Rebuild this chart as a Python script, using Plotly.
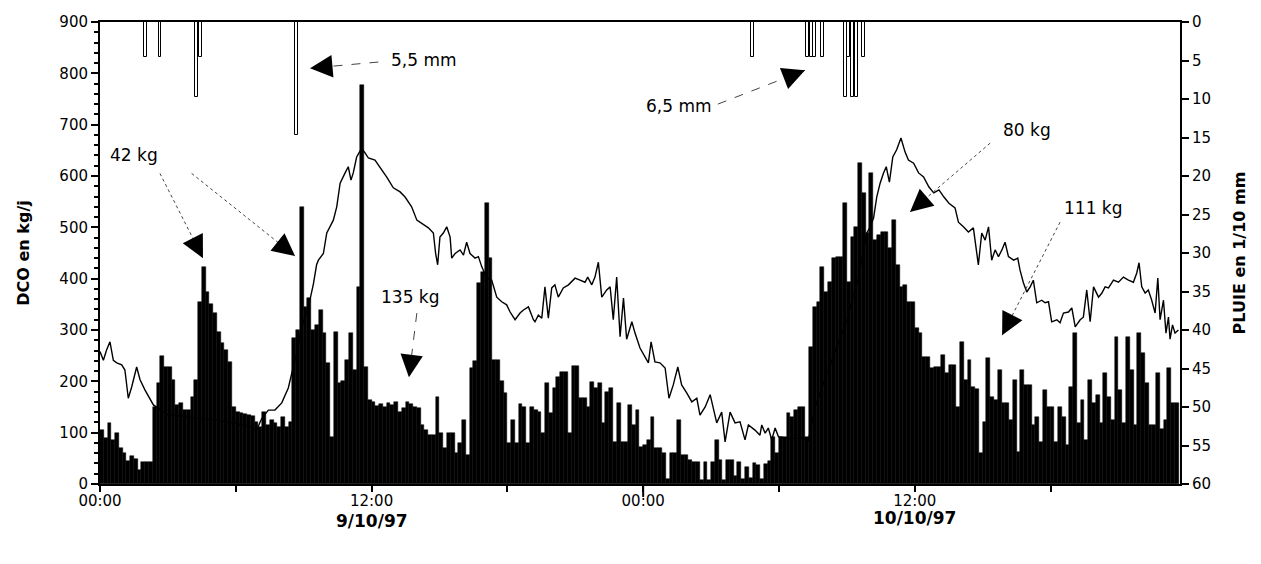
import plotly.graph_objects as go

# DCO load (kg/j), 10-minute steps from 9/10/97 00:00, one row per hour
dco = [
    105, 90, 119, 86, 100, 70,
    60, 45, 55, 48, 27, 43,
    43, 43, 150, 197, 249, 228,
    228, 203, 154, 158, 144, 144,
    170, 203, 355, 423, 374, 350,
    333, 296, 275, 261, 238, 150,
    140, 138, 136, 134, 132, 121,
    111, 140, 115, 125, 118, 111,
    130, 111, 120, 284, 300, 540,
    345, 362, 300, 310, 339, 294,
    236, 92, 296, 197, 200, 241,
    294, 222, 384, 777, 228, 164,
    160, 152, 155, 150, 158, 154,
    160, 140, 148, 160, 156, 150,
    148, 115, 105, 95, 95, 170,
    99, 70, 99, 99, 60, 80,
    125, 57, 226, 240, 391, 413,
    547, 440, 241, 241, 200, 177,
    80, 125, 80, 156, 150, 80,
    150, 144, 140, 99, 197, 138,
    187, 208, 218, 218, 99, 230,
    230, 167, 167, 150, 199, 187,
    197, 119, 179, 187, 82, 158,
    82, 82, 154, 115, 144, 72,
    76, 86, 130, 70, 70, 60,
    10, 60, 60, 125, 57, 57,
    47, 43, 43, 8, 43, 8,
    43, 86, 47, 8, 47, 47,
    15, 43, 10, 33, 12, 41,
    37, 10, 39, 45, 92, 60,
    92, 92, 138, 131, 144, 150,
    150, 92, 267, 345, 355, 423,
    374, 393, 440, 443, 443, 547,
    393, 481, 501, 625, 567, 489,
    606, 475, 485, 491, 491, 460,
    514, 427, 384, 388, 355, 355,
    304, 294, 248, 248, 226, 228,
    228, 251, 216, 232, 232, 150,
    277, 203, 241, 189, 186, 60,
    121, 245, 170, 164, 222, 158,
    158, 125, 203, 62, 222, 193,
    193, 115, 130, 82, 183, 150,
    150, 82, 150, 130, 76, 189,
    294, 119, 164, 86, 203, 158,
    174, 119, 216, 170, 125, 287,
    183, 119, 287, 222, 115, 294,
    255, 197, 115, 115, 216, 107,
    125, 226, 158, 158,
]

# second DCO series (line), read at irregular times (hours from 9/10/97 00:00)
line_hours = [
    0.00, 0.15, 0.29, 0.44, 0.59, 0.74, 0.96, 1.10, 1.25, 1.40, 1.62, 1.77, 1.99, 2.21, 2.36,
    3.0, 4.0, 5.0, 6.0, 6.6, 6.92, 7.15, 7.44, 7.73, 8.03, 8.32, 8.54, 8.69, 8.91, 9.21,
    9.43, 9.57, 9.65, 9.87, 10.02, 10.16, 10.31, 10.46, 10.61, 10.83, 10.97, 11.09, 11.19,
    11.34, 11.56, 11.71, 11.86, 12.15, 12.45, 12.67, 12.96, 13.26, 13.48, 13.77, 14.00,
    14.21, 14.51, 14.73, 14.83, 14.92, 15.02, 15.17, 15.32, 15.47, 15.54, 15.69, 15.91,
    16.06, 16.20, 16.35, 16.57, 16.72, 16.87, 17.09, 17.31, 17.53, 17.75, 17.97, 18.12,
    18.34, 18.56, 18.71, 18.93, 19.15, 19.22, 19.37, 19.52, 19.66, 19.81, 19.96, 20.10,
    20.25, 20.47, 20.70, 20.99, 21.21, 21.43, 21.55, 21.73, 21.87, 22.02, 22.17, 22.39,
    22.54, 22.68, 22.83, 22.98, 23.13, 23.27, 23.50, 23.64, 23.86, 24.08, 24.23, 24.35,
    24.52, 24.74, 24.97, 25.14, 25.33, 25.53, 25.70, 25.93, 26.15, 26.37, 26.51, 26.74,
    26.96, 27.25, 27.47, 27.62, 27.84, 28.06, 28.28, 28.50, 28.65, 28.94, 29.16, 29.24,
    29.39, 29.53, 29.68, 29.83, 29.98, 30.5, 31.0, 31.3, 31.6, 32.0, 32.5, 33.0, 33.5,
    33.88, 34.03, 34.18, 34.32, 34.47, 34.62, 34.74, 34.88, 35.03, 35.20, 35.39, 35.57,
    35.72, 35.95, 36.17, 36.39, 36.62, 36.84, 37.07, 37.29, 37.51, 37.78, 37.93, 38.15,
    38.37, 38.59, 38.74, 38.81, 38.96, 39.11, 39.26, 39.40, 39.55, 39.70, 39.85, 39.99,
    40.14, 40.37, 40.55, 40.65, 40.80, 40.95, 41.10, 41.24, 41.39, 41.61, 41.76, 41.91,
    42.05, 42.28, 42.42, 42.57, 42.79, 42.94, 43.09, 43.31, 43.45, 43.60, 43.75, 43.90,
    44.12, 44.27, 44.41, 44.56, 44.78, 45.00, 45.22, 45.44, 45.66, 45.81, 45.91, 46.03,
    46.18, 46.32, 46.47, 46.62, 46.74, 46.84, 46.99, 47.10, 47.21, 47.28, 47.39, 47.50, 47.65,
]
line_dco = [
    258, 241, 261, 277, 241, 236, 232, 222, 167, 189, 228, 203, 183, 167, 154,
    135, 130, 125, 118, 112, 105, 128, 144, 144, 158, 187, 228, 255, 306, 345,
    390, 427, 436, 449, 489, 501, 514, 540, 586, 606, 618, 592, 606,
    637, 654, 645, 635, 631, 612, 598, 577, 569, 559, 540, 514,
    508, 499, 489, 449, 427, 481, 489, 501, 481, 440, 449, 456,
    446, 471, 449, 440, 443, 423, 401, 397, 364, 355, 349, 335,
    320, 333, 339, 345, 320, 316, 329, 323, 384, 323, 382, 388,
    364, 382, 388, 401, 397, 393, 403, 388, 403, 432, 364, 378,
    384, 320, 403, 287, 362, 282, 316, 294, 265, 248, 236, 277,
    238, 236, 226, 167, 193, 228, 193, 177, 160, 167, 134, 150,
    174, 119, 140, 82, 140, 119, 121, 86, 115, 105, 95, 115,
    99, 109, 86, 109, 92, 88, 90, 85, 150, 200, 260, 320, 400,
    489, 501, 518, 559, 586, 606, 618, 588, 637, 651, 674, 647,
    631, 625, 606, 598, 579, 567, 573, 559, 547, 538, 510, 501,
    491, 499, 449, 427, 489, 475, 501, 436, 456, 443, 456, 471,
    443, 436, 440, 417, 392, 374, 384, 397, 353, 358, 353, 355,
    316, 320, 314, 333, 335, 343, 306, 320, 325, 378, 316, 384,
    364, 372, 384, 382, 397, 393, 403, 397, 393, 411, 431, 384,
    372, 378, 358, 333, 401, 320, 358, 294, 325, 282, 310, 294, 300,
]

# rain (1/10 mm), hours from 9/10/97 00:00
rain_hours = [2.0, 2.65, 4.25, 4.42, 8.67, 28.83, 31.25, 31.42, 31.58, 31.92,
              32.92, 33.08, 33.25, 33.42, 33.75]
rain_mm = [4.6, 4.6, 9.7, 4.6, 14.7, 4.6, 4.6, 4.6, 4.6, 4.6,
           9.7, 4.6, 9.7, 9.7, 4.6]

tick_hours = [0, 6, 12, 18, 24, 30, 36, 42]
tick_text = ["00:00", "", "12:00", "", "00:00", "", "12:00", ""]

FONT = "DejaVu Sans, Liberation Sans, Arial, sans-serif"
step = 1 / 6
bar_x = [i * step + step / 2 for i in range(len(dco))]

fig = go.Figure()
fig.add_trace(go.Bar(x=bar_x, y=dco, width=step, yaxis="y",
                     marker=dict(color="black", line=dict(color="black", width=0.5))))
fig.add_trace(go.Scatter(x=line_hours, y=line_dco, mode="lines", yaxis="y",
                         line=dict(color="black", width=1.4)))
fig.add_trace(go.Bar(x=rain_hours, y=rain_mm, width=0.13, yaxis="y2",
                     marker=dict(color="white", line=dict(color="black", width=1))))

# annotations: text, text position, list of (tail, tip) arrows, dash
notes = [
    ("42 kg", (1.5, 640), [((2.65, 605), (4.55, 440)), ((4.05, 605), (8.62, 444))], "dot"),
    ("5,5 mm", (14.3, 826), [((12.3, 822), (9.28, 810))], "dash"),
    ("6,5 mm", (25.6, 736), [((27.3, 740), (31.15, 806))], "dash"),
    ("135 kg", (13.7, 364), [((14.0, 333), (13.65, 208))], "dash"),
    ("80 kg", (40.96, 690), [((39.33, 664), (35.79, 530))], "dot"),
    ("111 kg", (43.88, 538), [((42.42, 510), (39.86, 290))], "dot"),
]
for text, (tx, ty), arrows, dash in notes:
    fig.add_annotation(x=tx, y=ty, xref="x", yref="y", text=text, showarrow=False,
                       font=dict(family=FONT, size=17, color="black"))
    for (ax, ay), (hx, hy) in arrows:
        fig.add_shape(type="line", xref="x", yref="y", x0=ax, y0=ay, x1=hx, y1=hy,
                      line=dict(color="#444", width=1, dash=dash))
        f = 0.18
        fig.add_annotation(x=hx, y=hy, xref="x", yref="y", axref="x", ayref="y",
                           ax=hx + f * (ax - hx), ay=hy + f * (ay - hy), text="",
                           showarrow=True, arrowhead=2, arrowsize=1.5, arrowwidth=3,
                           arrowcolor="black")

for d, x, y in (("9/10/97", 12, -0.080), ("10/10/97", 36, -0.074)):
    fig.add_annotation(x=x, y=y, xref="x", yref="paper", text="<b>%s</b>" % d,
                       yanchor="middle", showarrow=False,
                       font=dict(family=FONT, size=17, color="black"))

fig.add_shape(type="line", xref="x", yref="paper", x0=24, x1=24, y0=0, y1=-0.028,
              line=dict(color="black", width=2))

fig.update_layout(
    width=1261, height=564,
    margin=dict(l=92, r=89, t=14, b=88),
    paper_bgcolor="white", plot_bgcolor="white",
    barmode="overlay", bargap=0, showlegend=False,
    font=dict(family=FONT, size=15, color="black"),
    xaxis=dict(range=[0, 47.72], tickvals=tick_hours, ticktext=tick_text,
               ticks="outside", ticklen=6, tickwidth=1.5, tickcolor="black",
               ticklabelstandoff=-4, automargin=False,
               showline=True, linewidth=2, linecolor="black", mirror=True,
               showgrid=False, zeroline=False),
    yaxis=dict(range=[0, 900], dtick=100, ticks="outside", ticklen=7, tickwidth=1.5,
               tickcolor="black", showline=True, linewidth=2, linecolor="black",
               showgrid=False, zeroline=False, automargin=False,
               minor=dict(dtick=20, ticks="outside", ticklen=4, tickcolor="black"),
               title=dict(text="<b>DCO en kg/j</b>", standoff=26,
                          font=dict(family=FONT, size=16))),
    yaxis2=dict(range=[60, 0], dtick=5, overlaying="y", side="right",
                ticks="outside", ticklen=7, tickwidth=1.5, tickcolor="black",
                showline=True, linewidth=2, linecolor="black",
                showgrid=False, zeroline=False, automargin=False,
                title=dict(text="<b>PLUIE en 1/10 mm</b>", standoff=24,
                           font=dict(family=FONT, size=16))),
)

fig.write_html("out.html")
